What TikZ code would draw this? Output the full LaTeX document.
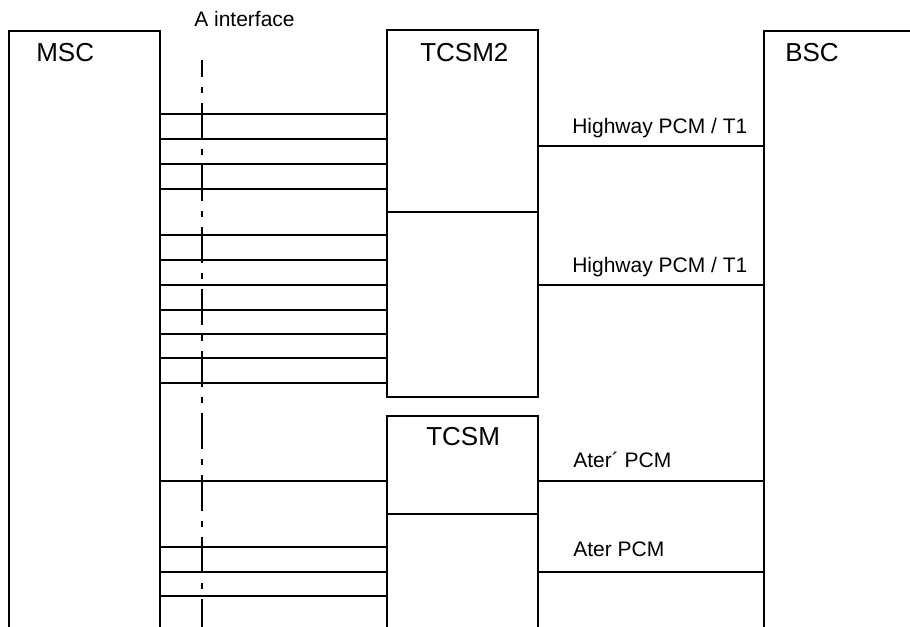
\documentclass[tikz,border=0pt]{standalone}
\usepackage{fontspec}
\setmainfont{Liberation Sans}
\usetikzlibrary{fit}
\begin{document}
\begin{tikzpicture}[x=0.75pt,y=-0.75pt,
  box/.style={draw,line width=1pt,inner sep=0pt,rectangle},
  link/.style={line width=1pt},
  bigtxt/.style={font=\fontsize{19.5pt}{22pt}\selectfont,inner sep=0pt,anchor=base west},
  smalltxt/.style={font=\fontsize{15.75pt}{18pt}\selectfont,inner sep=0pt,anchor=base west},
  dashdot/.style={line width=1pt,dash pattern=on 27pt off 7.5pt on 4.5pt off 7.5pt,dash phase=14pt}]
\useasboundingbox (0,0) rectangle (910,626);
\fill[white] (0,0) rectangle (910,626);
\clip (0,0) rectangle (910,626);
% boxes
\node[box,fit={(9,31)(160,660)}] (msc) {};
\node[box,fit={(764,31)(960,660)}] (bsc) {};
\node[box,fit={(387,30)(538,397)}] (tcsm2) {};
\node[box,fit={(387,416)(538,660)}] (tcsm) {};
% titles
\node[bigtxt] (tmsc) at (36,61.7) {MSC};
\node[bigtxt] (ttcsm2) at (420,61) {TCSM2};
\node[bigtxt] (tbsc) at (785,61) {BSC};
\node[bigtxt] (ttcsm) at (426,445) {TCSM};
\node[smalltxt] (ainf) at (194,26.7) {A interface};
% dividers
\draw[link] (tcsm2.west |- 0,212) -- (tcsm2.east |- 0,212);
\draw[link] (tcsm.west |- 0,514) -- (tcsm.east |- 0,514);
% A-interface lines MSC - TCSM2
\foreach \yy in {114,139,164,189,235,260,285,310,334,358,383}
  \draw[link] (msc.east |- 0,\yy) -- (tcsm2.west |- 0,\yy);
% MSC - TCSM
\foreach \yy in {481,547,572,596}
  \draw[link] (msc.east |- 0,\yy) -- (tcsm.west |- 0,\yy);
% TCSM2/TCSM - BSC
\draw[link] (tcsm2.east |- 0,146) -- (bsc.west |- 0,146);
\draw[link] (tcsm2.east |- 0,285) -- (bsc.west |- 0,285);
\draw[link] (tcsm.east |- 0,481) -- (bsc.west |- 0,481);
\draw[link] (tcsm.east |- 0,572) -- (bsc.west |- 0,572);
\node[smalltxt] (hw1) at (572,133) {Highway PCM / T1};
\node[smalltxt] (hw2) at (572,272) {Highway PCM / T1};
\node[smalltxt] (ater1) at (573,467.7) {Ater´ PCM};
\node[smalltxt] (ater2) at (573,556.7) {Ater PCM};
% A interface dash-dot line
\coordinate (atop) at (202,60);
\coordinate (abot) at (202,640);
\draw[dashdot] (atop) -- (abot);
\end{tikzpicture}
\end{document}
